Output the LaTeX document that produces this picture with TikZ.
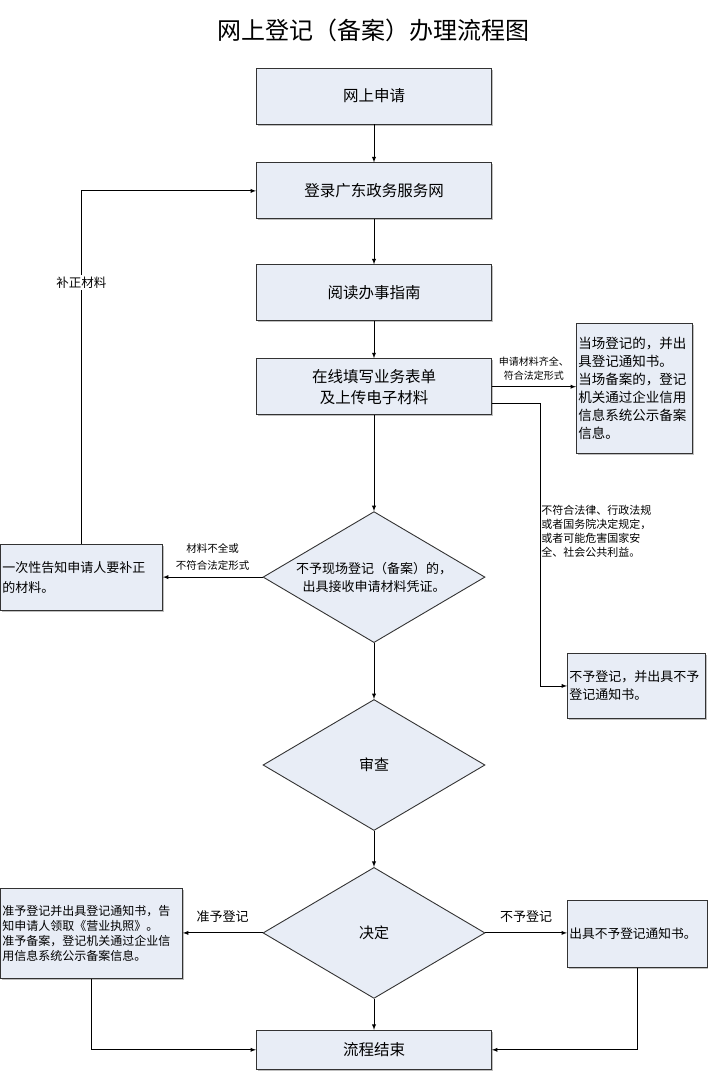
\documentclass[tikz,border=0pt]{standalone}
\usepackage{fontspec}
\setmainfont{Noto Sans CJK SC}
\usepackage{tikz}
\usetikzlibrary{arrows.meta, positioning, shapes.geometric, shadows}
\definecolor{boxfill}{HTML}{E8EDF6}

\begin{document}
\begin{tikzpicture}[x=1pt, y=-1pt, line width=0.9pt]
	\tikzstyle{process} = [rectangle, minimum width=235pt, minimum height=56pt, 
	text centered, align=center, draw=black!80, fill=boxfill, 
	font=\fontsize{15.5}{21}\selectfont, 
	drop shadow={shadow xshift=1.5pt, shadow yshift=-1.5pt, fill=black!50}]
	\tikzstyle{decision} = [diamond, aspect=1.7, inner sep=0pt, minimum width=222pt, 
	minimum height=131pt, align=center, draw=black!80, fill=boxfill, 
	font=\fontsize{13}{18}\selectfont]
	\tikzstyle{note} = [rectangle, anchor=north west, inner sep=2pt, align=left, 
	draw=black!80, fill=boxfill, 
	drop shadow={shadow xshift=1.5pt, shadow yshift=-1.5pt, fill=black!50}]
	\tikzstyle{tag} = [align=center, font=\fontsize{10}{14}\selectfont]
	\tikzstyle{arrow} = [->, >=latex]
	\useasboundingbox (0,0) rectangle (708,1071);
	\node (title) at (373,30) [font=\fontsize{24}{28}\selectfont] {网上登记（备案）办理流程图};
	\node (onlineApply) at (374,96) [process] {网上申请};
	\node (loginPortal) [process, below=38pt of onlineApply] {登录广东政务服务网};
	\node (readGuide) [process, below=45pt of loginPortal] {阅读办事指南};
	\node (fillForm) [process, below=37pt of readGuide] {在线填写业务表单\\及上传电子材料};
	\node (receipt) [decision, below=96pt of fillForm] {不予现场登记（备案）的，\\出具接收申请材料凭证。};
	\node (review) [decision, below=56pt of receipt, font=\fontsize{15}{18}\selectfont] {审查};
	\node (judge) [decision, below=36pt of review, font=\fontsize{15}{18}\selectfont] {决定};
	\node (finish) [process, minimum height=39pt, below=31pt of judge] {流程结束};
	% side boxes
	\node (onSpot) [note, text width=112pt, minimum height=130pt, 
	font=\fontsize{13.5}{18}\selectfont] at (576,323) 
	{当场登记的，并出\\具登记通知书。\\当场备案的，登记\\机关通过企业信用\\信息系统公示备案\\信息。};
	\node (fixNotice) [note, text width=158pt, minimum height=66pt, 
	font=\fontsize{13}{20}\selectfont] at (0,544) 
	{一次性告知申请人要补正\\的材料。};
	\node (rejectNotice) [note, text width=134pt, minimum height=65pt, 
	font=\fontsize{13}{18}\selectfont] at (567,653) 
	{不予登记，并出具不予\\登记通知书。};
	\node (grantNotice) [note, text width=178pt, minimum height=90pt, 
	font=\fontsize{12}{15}\selectfont] at (0,888) 
	{准予登记并出具登记通知书，告\\知申请人领取《营业执照》。\\准予备案，登记机关通过企业信\\用信息系统公示备案信息。};
	\node (denyNotice) [note, text width=136pt, minimum height=67pt, 
	font=\fontsize{12.7}{16}\selectfont] at (567,900) 
	{出具不予登记通知书。};
	\node (illegal) [anchor=north west, inner sep=2pt, align=left, 
	font=\fontsize{11}{14}\selectfont] at (539,503) 
	{不符合法律、行政法规\\或者国务院决定规定，\\或者可能危害国家安\\全、社会公共利益。};
	\coordinate (bend) at (540,0);
	% main flow
	\draw [arrow] (onlineApply) -- (loginPortal);
	\draw [arrow] (loginPortal) -- (readGuide);
	\draw [arrow] (readGuide) -- (fillForm);
	\draw [arrow] (fillForm) -- (receipt);
	\draw [arrow] (receipt) -- (review);
	\draw [arrow] (review) -- (judge);
	\draw [arrow] (judge) -- (finish);
	% branches
	\draw [arrow] (fillForm.east) -- (fillForm.east -| onSpot.west) 
	node [tag, midway, above=3pt] {申请材料齐全、\\符合法定形式};
	\draw [arrow] ([yshift=-17pt]fillForm.east) -- ([yshift=-17pt]fillForm.east -| bend) 
	|- (rejectNotice.west);
	\draw [arrow] (receipt.west) -- (receipt.west -| fixNotice.east) 
	node [tag, midway, above=3pt, font=\fontsize{10.5}{17}\selectfont] {材料不全或\\不符合法定形式};
	\draw [arrow] (fixNotice.north) |- (loginPortal.west) 
	node [pos=0.37, fill=white, inner sep=2pt, font=\fontsize{12.5}{14}\selectfont] {补正材料};
	\draw [arrow] (judge.west) -- (judge.west -| grantNotice.east) 
	node [midway, above=7pt, font=\fontsize{13}{15}\selectfont] {准予登记};
	\draw [arrow] (judge.east) -- (judge.east -| denyNotice.west) 
	node [midway, above=7pt, font=\fontsize{13}{15}\selectfont] {不予登记};
	\draw [arrow] (grantNotice.south) |- (finish.west);
	\draw [arrow] (denyNotice.south) |- (finish.east);
\end{tikzpicture}
\end{document}
